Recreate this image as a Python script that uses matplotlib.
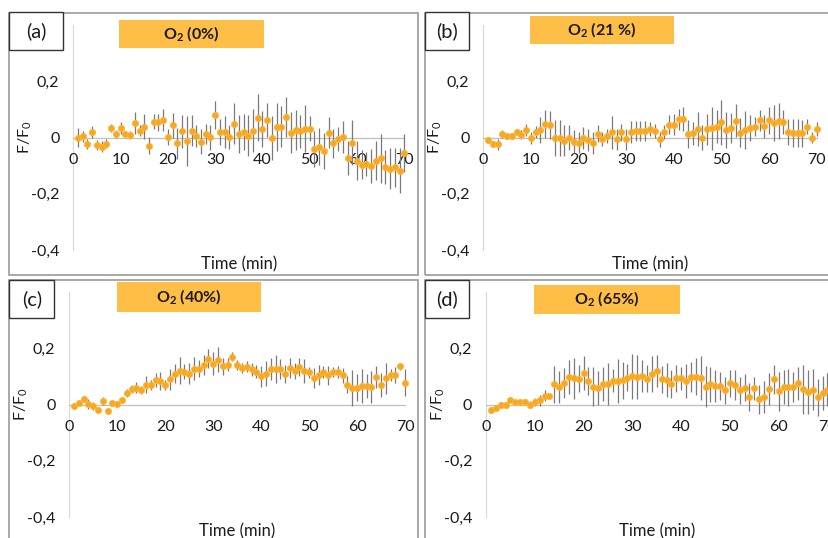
import matplotlib
matplotlib.use("Agg")
import matplotlib.pyplot as plt
from matplotlib.patches import Rectangle

plt.rcParams['font.family'] = ['Lato', 'DejaVu Sans']
plt.rcParams['mathtext.fontset'] = 'custom'
plt.rcParams['mathtext.rm'] = 'Lato'
plt.rcParams['mathtext.bf'] = 'Lato:bold'

time_min = [1, 2, 3, 4, 5, 6, 7, 8, 9, 10, 11, 12, 13, 14, 15, 16, 17, 18, 19, 20,
            21, 22, 23, 24, 25, 26, 27, 28, 29, 30, 31, 32, 33, 34, 35, 36, 37, 38, 39, 40,
            41, 42, 43, 44, 45, 46, 47, 48, 49, 50, 51, 52, 53, 54, 55, 56, 57, 58, 59, 60,
            61, 62, 63, 64, 65, 66, 67, 68, 69, 70]

# (a) O2 0%
a_val = [0.0, 0.004, -0.024, 0.02, -0.027, -0.032, -0.022, 0.033, 0.013, 0.034,
         0.013, 0.009, 0.051, 0.024, 0.039, -0.029, 0.056, 0.054, 0.063, 0.002,
         0.043, -0.021, 0.022, -0.013, 0.024, 0.006, -0.015, 0.012, 0.001, 0.079,
         0.02, 0.02, 0.001, 0.049, 0.012, 0.02, 0.007, 0.024, 0.071, 0.029,
         0.061, -0.001, 0.037, 0.038, 0.073, 0.017, 0.027, 0.022, 0.032, 0.032,
         -0.04, -0.032, -0.049, 0.017, -0.021, -0.004, 0.002, -0.074, -0.018, -0.082,
         -0.096, -0.095, -0.1, -0.082, -0.074, -0.104, -0.111, -0.106, -0.119, -0.054]
a_err = [0.033, 0.02, 0.018, 0.02, 0.018, 0.02, 0.015, 0.015, 0.015, 0.02,
         0.01, 0.015, 0.04, 0.02, 0.045, 0.03, 0.027, 0.03, 0.04, 0.027,
         0.043, 0.055, 0.058, 0.09, 0.055, 0.04, 0.045, 0.035, 0.045, 0.05,
         0.045, 0.058, 0.043, 0.073, 0.067, 0.064, 0.073, 0.076, 0.082, 0.064,
         0.06, 0.079, 0.085, 0.073, 0.07, 0.073, 0.07, 0.058, 0.085, 0.043,
         0.064, 0.067, 0.064, 0.055, 0.052, 0.043, 0.058, 0.06, 0.079, 0.07,
         0.052, 0.043, 0.06, 0.07, 0.088, 0.06, 0.073, 0.07, 0.08, 0.067]

# (b) O2 21 %
b_val = [-0.01, -0.024, -0.024, 0.013, 0.004, 0.007, 0.02, 0.01, 0.027, -0.002,
         0.02, 0.027, 0.049, 0.046, -0.002, -0.002, -0.012, -0.001, -0.015, -0.018,
         -0.001, -0.008, -0.02, 0.013, -0.005, 0.005, 0.018, -0.007, 0.018, -0.007,
         0.02, 0.023, 0.023, 0.024, 0.03, 0.024, -0.006, 0.018, 0.046, 0.046,
         0.065, 0.067, 0.011, 0.015, 0.029, 0.0, 0.029, 0.033, 0.039, 0.055,
         0.027, 0.034, 0.06, 0.017, 0.027, 0.033, 0.039, 0.061, 0.04, 0.061,
         0.052, 0.059, 0.054, 0.021, 0.017, 0.017, 0.015, 0.039, 0.0, 0.03]
b_err = [0.01, 0.01, 0.02, 0.015, 0.01, 0.01, 0.01, 0.015, 0.02, 0.02,
         0.02, 0.045, 0.05, 0.05, 0.064, 0.064, 0.055, 0.045, 0.04, 0.037,
         0.04, 0.04, 0.04, 0.03, 0.025, 0.025, 0.06, 0.037, 0.03, 0.037,
         0.04, 0.035, 0.035, 0.035, 0.025, 0.025, 0.027, 0.025, 0.033, 0.037,
         0.037, 0.043, 0.05, 0.04, 0.06, 0.043, 0.055, 0.076, 0.058, 0.08,
         0.064, 0.052, 0.058, 0.052, 0.067, 0.046, 0.034, 0.037, 0.04, 0.049,
         0.064, 0.064, 0.043, 0.046, 0.049, 0.049, 0.049, 0.027, 0.018, 0.024]

# (c) O2 40%
c_val = [-0.005, 0.007, 0.02, 0.002, -0.006, -0.02, 0.013, -0.024, 0.005, 0.002,
         0.016, 0.041, 0.055, 0.06, 0.052, 0.07, 0.069, 0.088, 0.084, 0.069,
         0.089, 0.11, 0.12, 0.116, 0.11, 0.128, 0.128, 0.141, 0.163, 0.145,
         0.159, 0.136, 0.142, 0.17, 0.142, 0.129, 0.135, 0.125, 0.117, 0.1,
         0.11, 0.127, 0.127, 0.125, 0.108, 0.131, 0.119, 0.134, 0.119, 0.114,
         0.095, 0.105, 0.116, 0.104, 0.117, 0.117, 0.104, 0.07, 0.058, 0.06,
         0.066, 0.066, 0.061, 0.099, 0.069, 0.093, 0.104, 0.105, 0.136, 0.077]
c_err = [0.01, 0.01, 0.01, 0.018, 0.015, 0.01, 0.015, 0.008, 0.01, 0.01,
         0.01, 0.015, 0.015, 0.02, 0.015, 0.03, 0.018, 0.024, 0.033, 0.018,
         0.036, 0.033, 0.048, 0.027, 0.036, 0.04, 0.03, 0.036, 0.033, 0.04,
         0.045, 0.03, 0.024, 0.015, 0.018, 0.018, 0.018, 0.024, 0.024, 0.036,
         0.045, 0.04, 0.05, 0.036, 0.033, 0.036, 0.03, 0.033, 0.042, 0.02,
         0.036, 0.036, 0.021, 0.033, 0.018, 0.021, 0.027, 0.03, 0.063, 0.048,
         0.06, 0.042, 0.057, 0.039, 0.042, 0.054, 0.021, 0.03, 0.012, 0.048]

# (d) O2 65%
d_val = [-0.02, -0.012, -0.002, -0.002, 0.015, 0.009, 0.008, 0.009, 0.0, 0.009,
         0.015, 0.032, 0.032, 0.072, 0.063, 0.076, 0.098, 0.093, 0.091, 0.112,
         0.085, 0.064, 0.058, 0.072, 0.072, 0.085, 0.085, 0.086, 0.096, 0.1,
         0.098, 0.102, 0.091, 0.108, 0.118, 0.089, 0.086, 0.073, 0.093, 0.093,
         0.084, 0.098, 0.099, 0.093, 0.064, 0.072, 0.067, 0.066, 0.051, 0.076,
         0.07, 0.051, 0.059, 0.027, 0.057, 0.018, 0.027, 0.056, 0.089, 0.047,
         0.062, 0.062, 0.062, 0.075, 0.054, 0.043, 0.053, 0.026, 0.041, 0.053]
d_err = [0.01, 0.01, 0.01, 0.01, 0.01, 0.01, 0.01, 0.01, 0.012, 0.015,
         0.02, 0.02, 0.01, 0.065, 0.057, 0.054, 0.06, 0.072, 0.048, 0.06,
         0.05, 0.07, 0.06, 0.06, 0.075, 0.042, 0.078, 0.066, 0.048, 0.081,
         0.078, 0.057, 0.048, 0.063, 0.057, 0.048, 0.06, 0.051, 0.048, 0.042,
         0.06, 0.054, 0.066, 0.078, 0.072, 0.063, 0.057, 0.051, 0.048, 0.048,
         0.054, 0.048, 0.048, 0.051, 0.042, 0.051, 0.057, 0.057, 0.051, 0.069,
         0.06, 0.066, 0.054, 0.06, 0.087, 0.078, 0.072, 0.066, 0.06, 0.06]

panel_labels = ['(a)', '(b)', '(c)', '(d)']
panel_titles = [r'O$_\mathbf{2}$ (0%)', r'O$_\mathbf{2}$ (21 %)',
                r'O$_\mathbf{2}$ (40%)', r'O$_\mathbf{2}$ (65%)']
x_ticks = [0, 10, 20, 30, 40, 50, 60, 70]
y_ticks = [-0.4, -0.2, 0.0, 0.2]
y_ticklabels = ['-0,4', '-0,2', '0', '0,2']

W, H = 829, 538
fig = plt.figure(figsize=(W / 100, H / 100), dpi=100)
fig.patch.set_facecolor('white')

def fx(px):
    return px / W

def fy(py):
    return 1 - py / H

# layout in pixel coords: (x0, x70, ytop(0.4), ybottom(-0.4))
axes_px = [(73.3, 404.3, 25.0, 250.0),
           (483.3, 816.7, 25.0, 250.0),
           (69.3, 405.0, 292.0, 517.0),
           (486.0, 827.5, 292.0, 517.0)]
frame_px = [(9.5, 12.5, 418.0, 275.0),
            (425.5, 12.5, 840.0, 275.0),
            (9.5, 280.0, 418.0, 550.0),
            (425.5, 280.0, 840.0, 550.0)]
label_px = [(9.5, 12.5, 63.0, 50.0),
            (425.5, 12.5, 469.0, 50.0),
            (9.5, 280.0, 54.0, 318.0),
            (425.5, 280.0, 469.0, 318.0)]
title_px = [(119.0, 20.0, 264.0, 48.0),
            (530.0, 16.0, 674.0, 44.0),
            (117.0, 282.0, 261.0, 312.0),
            (534.0, 285.0, 680.0, 314.0)]

series = [(a_val, a_err), (b_val, b_err), (c_val, c_err), (d_val, d_err)]
orange = '#F7A823'
box_orange = '#FFBE45'

for i in range(4):
    # frame of each panel
    x0, y0, x1, y1 = frame_px[i]
    fig.add_artist(Rectangle((fx(x0), fy(y1)), fx(x1 - x0), (y1 - y0) / H,
                             transform=fig.transFigure, fill=False,
                             edgecolor='#9A9A9A', linewidth=1.2, zorder=0))

    ax_x0, ax_x70, ay_t, ay_b = axes_px[i]
    ax = fig.add_axes([fx(ax_x0), fy(ay_b), fx(ax_x70 - ax_x0), (ay_b - ay_t) / H])
    ax.set_facecolor('none')
    ax.set_xlim(0, 70)
    ax.set_ylim(-0.4, 0.4)
    vals, errs = series[i]
    ax.errorbar(time_min, vals, yerr=errs, fmt='none', ecolor='#7A7A7A',
                elinewidth=0.9, capsize=0, zorder=2, clip_on=False)
    ax.plot(time_min, vals, 'o', color=orange, markersize=4.5,
            markeredgecolor='#FDB838', markeredgewidth=0.6, zorder=3, clip_on=False)

    for s in ['top', 'right']:
        ax.spines[s].set_visible(False)
    ax.spines['bottom'].set_position(('data', 0))
    ax.spines['bottom'].set_color('#BFBFBF')
    ax.spines['bottom'].set_linewidth(0.9)
    ax.spines['left'].set_position(('data', 0))
    ax.spines['left'].set_color('#D9D9D9')
    ax.spines['left'].set_linewidth(0.9)
    ax.spines['bottom'].set_zorder(1)
    ax.spines['left'].set_zorder(1)

    ax.set_xticks(x_ticks)
    ax.set_xticklabels([str(t) for t in x_ticks])
    ax.set_yticks(y_ticks)
    ax.set_yticklabels(y_ticklabels)
    ax.tick_params(axis='x', length=0, pad=11, labelsize=11.5, labelcolor='#1a1a1a')
    ax.tick_params(axis='y', length=0, pad=10, labelsize=11.5, labelcolor='#1a1a1a')

    # axis titles
    cx = (ax_x0 + ax_x70) / 2
    fig.text(fx(cx), fy(ay_b + 14), 'Time (min)', ha='center', va='center',
             fontsize=12, color='#1a1a1a')
    fig.text(fx(ax_x0 - 48), fy((ay_t + ay_b) / 2), r'F/F$_\mathregular{0}$',
             ha='center', va='center', rotation=90, fontsize=11.5, color='#1a1a1a')

    # panel label box
    x0, y0, x1, y1 = label_px[i]
    fig.add_artist(Rectangle((fx(x0), fy(y1)), fx(x1 - x0), (y1 - y0) / H,
                             transform=fig.transFigure, facecolor='white',
                             edgecolor='#333333', linewidth=1.0, zorder=5))
    fig.text(fx((x0 + x1) / 2), fy((y0 + y1) / 2), panel_labels[i], ha='center',
             va='center', fontsize=14.5, color='#1a1a1a', zorder=6)

    # orange title box
    x0, y0, x1, y1 = title_px[i]
    fig.add_artist(Rectangle((fx(x0), fy(y1)), fx(x1 - x0), (y1 - y0) / H,
                             transform=fig.transFigure, facecolor=box_orange,
                             edgecolor='none', zorder=5))
    fig.text(fx((x0 + x1) / 2), fy((y0 + y1) / 2), panel_titles[i], ha='center',
             va='center', fontsize=11.5, fontweight='bold', color='#1a1a1a', zorder=6)

fig.savefig('out.png', dpi=100, facecolor='white')
